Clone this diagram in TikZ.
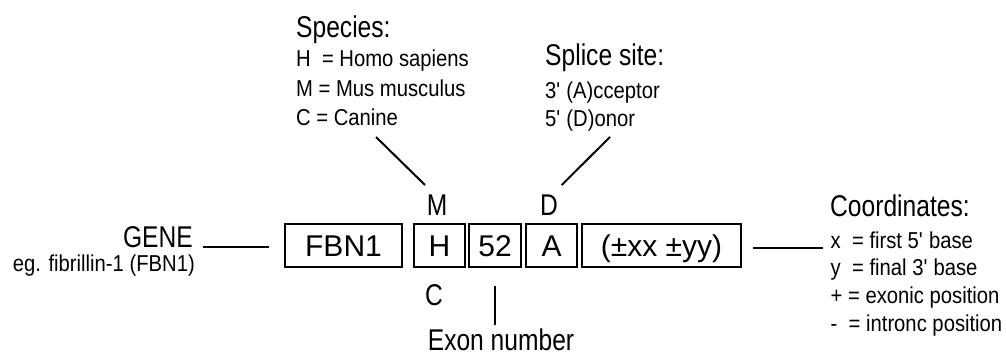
\documentclass[tikz,border=0pt]{standalone}
\usepackage{fontspec}
\setmainfont{Liberation Sans}
\newfontfamily\narrowfont{Liberation Sans}[FakeStretch=0.88]
\newfontfamily\headfont{Liberation Sans}[FakeStretch=0.82]
\begin{document}
\begin{tikzpicture}[x=1pt,y=-1pt,
  gbox/.style={draw, line width=1.1pt, inner sep=0pt, minimum height=43pt,
    text height=21.5pt, text depth=0pt, font=\fontsize{30}{36}\selectfont},
  head/.style={inner sep=0pt, font=\headfont\fontsize{30}{36}\selectfont},
  item/.style={inner sep=0pt, anchor=base west, font=\narrowfont\fontsize{23}{28}\selectfont},
  conn/.style={line width=2.2pt}]
\useasboundingbox (0,0) rectangle (1006,356);
% boxes
\node[gbox, minimum width=117pt] (fbn) at (343.5,245.5) {FBN1};
\node[gbox, minimum width=51pt] (hb) at (439.5,245.5) {H};
\node[gbox, minimum width=52pt] (nb) at (495,245.5) {52};
\node[gbox, minimum width=51pt] (ab) at (551.5,245.5) {A};
\node[gbox, minimum width=159pt] (cb) at (661.5,245.5) {(±xx ±yy)};
% letters above/below
\node[head, anchor=base] (m) at (437,215) {M};
\node[head, anchor=base] (d) at (549,215) {D};
\node[head, anchor=base] (c) at (434,305) {C};
% gene
\node[head, anchor=base east] (gene) at (193,247) {GENE};
\node[item, anchor=base east] (eg) at (195,271) {eg. fibrillin-1 (FBN1)};
\draw[conn, shorten <=10pt, shorten >=15pt] (gene.base east) -- (fbn.west |- gene.base east);
% species
\node[head, anchor=base west] (species) at (296,37) {Species:};
\node[item] (sh) at (296,66.5) {H~ = Homo sapiens};
\node[item] (sm) at (296,96.5) {M = Mus musculus};
\node[item] (sc) at (296,125) {C = Canine};
\coordinate (spS) at (376,137);
\coordinate (spE) at (425,185);
\draw[conn, line width=2pt] (spS) -- (spE);
% splice
\node[head, anchor=base west] (splice) at (545,65) {Splice site:};
\node[item] (sa) at (545,98) {3\textquotesingle\ (A)cceptor};
\node[item] (sd) at (545,126) {5\textquotesingle\ (D)onor};
\coordinate (slS) at (610,137);
\coordinate (slE) at (561.7,185);
\draw[conn, line width=2pt] (slS) -- (slE);
% exon
\node[head, anchor=base] (exon) at (501,350) {Exon number};
\draw[conn, shorten <=18pt, shorten >=3pt] (nb.south) -- (nb.south |- exon.north);
% coordinates
\node[head, anchor=base west] (coord) at (830,216) {Coordinates:};
\node[item] (cx) at (830.5,248) {x~ = first 5\textquotesingle\ base};
\node[item] (cy) at (830.5,275) {y~ = final 3\textquotesingle\ base};
\node[item] (cp) at (830.5,303) {+ = exonic position};
\node[item] (cm) at (830.5,331) {-~ = intronc position};
\draw[conn, shorten <=11.7pt, shorten >=8pt] (cb.east |- cx.base west) -- (cx.base west);
\end{tikzpicture}
\end{document}
